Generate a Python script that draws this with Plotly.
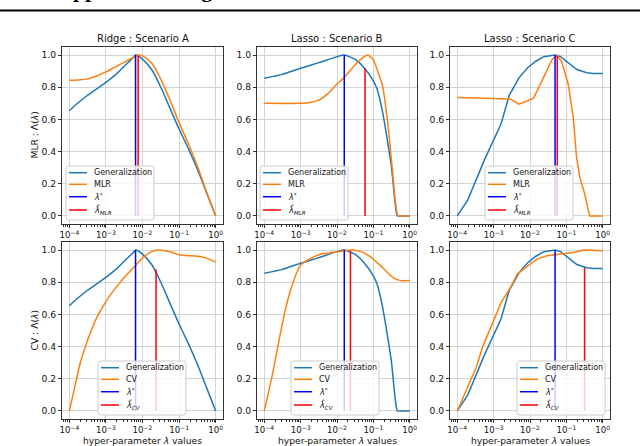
import numpy as np
import plotly.graph_objects as go
from plotly.subplots import make_subplots

W, H = 640, 446

# ---- data (x given as log10 of lambda) ----
# Ridge : Scenario A
ridgeA_gen_logx = [-4, -3.75, -3.5, -3.25, -3, -2.75, -2.5, -2.25, -2.19, -2, -1.75, -1.5, -1.25, -1, -0.75, -0.5, -0.25, 0]
ridgeA_gen = [0.654, 0.705, 0.75, 0.79, 0.83, 0.875, 0.93, 0.985, 1.0, 0.975, 0.91, 0.80, 0.67, 0.54, 0.42, 0.29, 0.145, 0.0]
ridgeA_mlr_logx = [-4, -3.75, -3.5, -3.25, -3, -2.75, -2.5, -2.25, -2.12, -2, -1.75, -1.5, -1.25, -1, -0.75, -0.5, -0.25, 0]
ridgeA_mlr = [0.843, 0.845, 0.852, 0.87, 0.895, 0.925, 0.955, 0.985, 1.0, 0.995, 0.95, 0.85, 0.72, 0.58, 0.45, 0.31, 0.15, 0.0]
ridgeA_cv_logx = [-4, -3.85, -3.7, -3.5, -3.25, -3, -2.75, -2.5, -2.25, -2, -1.75, -1.6, -1.25, -1, -0.75, -0.5, -0.25, 0]
ridgeA_cv = [0.0, 0.15, 0.30, 0.44, 0.58, 0.68, 0.76, 0.83, 0.89, 0.95, 0.99, 1.0, 0.99, 0.97, 0.965, 0.962, 0.95, 0.925]

# Lasso : Scenario B
lassoB_gen_logx = [-4, -3.5, -3, -2.5, -2, -1.8, -1.5, -1.25, -1, -0.9, -0.75, -0.6, -0.5, -0.43, -0.38, -0.34, -0.2, 0]
lassoB_gen = [0.856, 0.88, 0.918, 0.953, 0.99, 1.0, 0.973, 0.92, 0.84, 0.79, 0.65, 0.45, 0.30, 0.14, 0.04, 0.0, 0.0, 0.0]
lassoB_mlr_logx = [-4, -3, -2.75, -2.5, -2.25, -2, -1.8, -1.5, -1.25, -1.15, -1, -0.88, -0.75, -0.6, -0.5, -0.4, -0.36, -0.32, -0.2, 0]
lassoB_mlr = [0.70, 0.70, 0.705, 0.72, 0.76, 0.82, 0.86, 0.94, 0.99, 1.0, 0.97, 0.90, 0.81, 0.57, 0.34, 0.10, 0.03, 0.0, 0.0, 0.0]
lassoB_cv_logx = [-4, -3.79, -3.61, -3.43, -3.25, -3.02, -2.79, -2.43, -1.97, -1.6, -1.34, -1.06, -0.79, -0.47, -0.25, 0]
lassoB_cv = [0.0, 0.21, 0.42, 0.62, 0.77, 0.90, 0.94, 0.975, 0.99, 1.0, 0.99, 0.955, 0.90, 0.83, 0.81, 0.81]

# Lasso : Scenario C
lassoC_gen_logx = [-4, -3.71, -3.25, -3.03, -2.8, -2.57, -2.3, -2.07, -1.85, -1.62, -1.31, -1.16, -0.98, -0.71, -0.44, -0.25, 0]
lassoC_gen = [0.0, 0.10, 0.35, 0.46, 0.57, 0.75, 0.86, 0.92, 0.96, 0.99, 1.0, 0.99, 0.96, 0.91, 0.89, 0.885, 0.885]
lassoC_mlr_logx = [-4, -3.25, -2.8, -2.53, -2.3, -2.1, -1.9, -1.63, -1.4, -1.26, -1.13, -0.95, -0.81, -0.72, -0.63, -0.5, -0.36, 0]
lassoC_mlr = [0.736, 0.732, 0.73, 0.726, 0.695, 0.715, 0.732, 0.86, 0.97, 1.0, 0.96, 0.82, 0.61, 0.365, 0.24, 0.14, 0.0, 0.0]
lassoC_cv_logx = [-4, -3.71, -3.48, -3.3, -3.07, -2.8, -2.53, -2.35, -2.07, -1.8, -1.53, -1.16, -0.8, -0.53, 0]
lassoC_cv = [0.0, 0.15, 0.27, 0.40, 0.52, 0.67, 0.77, 0.85, 0.90, 0.945, 0.965, 0.975, 0.985, 1.0, 0.995]

# selected lambdas (log10) and the generalization value they reach
lam_star_logx = {"A": -2.19, "B": -1.80, "C": -1.31}
lam_star_top = {"A": 1.0, "B": 1.0, "C": 1.0}
lam_mlr_logx = {"A": -2.12, "B": -1.23, "C": -1.25}
lam_mlr_top = {"A": 0.995, "B": 0.92, "C": 0.995}
lam_cv_logx = {"A": -1.63, "B": -1.63, "C": -0.50}
lam_cv_top = {"A": 0.88, "B": 0.995, "C": 0.89}

# tick labels
x_tickvals = [1e-4, 1e-3, 1e-2, 1e-1, 1e0]
x_ticktext = ["10<sup>−4</sup>", "10<sup>−3</sup>", "10<sup>−2</sup>", "10<sup>−1</sup>", "10<sup>0</sup>"]
y_tickvals = [0.0, 0.2, 0.4, 0.6, 0.8, 1.0]

titles = ["Ridge : Scenario A", "Lasso : Scenario B", "Lasso : Scenario C"]
scen = ["A", "B", "C"]
gen_curves = {"A": (ridgeA_gen_logx, ridgeA_gen), "B": (lassoB_gen_logx, lassoB_gen), "C": (lassoC_gen_logx, lassoC_gen)}
mlr_curves = {"A": (ridgeA_mlr_logx, ridgeA_mlr), "B": (lassoB_mlr_logx, lassoB_mlr), "C": (lassoC_mlr_logx, lassoC_mlr)}
cv_curves = {"A": (ridgeA_cv_logx, ridgeA_cv), "B": (lassoB_cv_logx, lassoB_cv), "C": (lassoC_cv_logx, lassoC_cv)}
smooth = {"A": 0.8, "B": 0.5, "C": 0}

C_GEN, C_EST = "#1f77b4", "#ff7f0e"
C_STAR, C_HAT = "#0000ff", "#ff0000"
FONT = "DejaVu Sans"

# panel boxes in pixels
cols_px = [(62, 223), (257, 417), (450, 610)]
rows_px = [(47, 224), (242, 419)]


def px(x):
    return x / W


def py(y):
    return 1 - y / H


def curve_line(color, s):
    if smooth[s] > 0:
        return dict(color=color, width=1.5, shape="spline", smoothing=smooth[s])
    return dict(color=color, width=1.5)


fig = make_subplots(rows=2, cols=3)

for r in range(2):
    for c in range(3):
        s = scen[c]
        est = mlr_curves[s] if r == 0 else cv_curves[s]
        hat_x = lam_mlr_logx[s] if r == 0 else lam_cv_logx[s]
        hat_top = lam_mlr_top[s] if r == 0 else lam_cv_top[s]
        gx, gy = gen_curves[s]
        fig.add_trace(go.Scatter(x=10 ** np.array(gx), y=gy, mode="lines", line=curve_line(C_GEN, s)),
                      row=r + 1, col=c + 1)
        fig.add_trace(go.Scatter(x=10 ** np.array(est[0]), y=est[1], mode="lines", line=curve_line(C_EST, s)),
                      row=r + 1, col=c + 1)
        fig.add_trace(go.Scatter(x=[10 ** lam_star_logx[s]] * 2, y=[0, lam_star_top[s]], mode="lines",
                                 line=dict(color=C_STAR, width=1.5)), row=r + 1, col=c + 1)
        fig.add_trace(go.Scatter(x=[10 ** hat_x] * 2, y=[0, hat_top], mode="lines",
                                 line=dict(color=C_HAT, width=1.5)), row=r + 1, col=c + 1)

        x0, x1 = cols_px[c]
        y0, y1 = rows_px[r]
        idx = r * 3 + c + 1
        sfx = "" if idx == 1 else str(idx)
        fig.layout["xaxis" + sfx].domain = [px(x0), px(x1)]
        fig.layout["yaxis" + sfx].domain = [py(y1), py(y0)]

fig.update_xaxes(type="log", range=[-4.2, 0.2], tickvals=x_tickvals, ticktext=x_ticktext,
                 showgrid=True, gridcolor="#d4d4d4", gridwidth=1, automargin=False,
                 ticks="outside", ticklen=3, tickcolor="#333",
                 minor=dict(ticks="outside", ticklen=2, tickcolor="#333", dtick="D1", showgrid=False),
                 showline=True, mirror=True, linecolor="#333", linewidth=1,
                 tickfont=dict(family=FONT, size=8.6, color="#111"), zeroline=False)
fig.update_yaxes(range=[-0.05, 1.05], tickvals=y_tickvals, tickformat=".1f",
                 showgrid=True, gridcolor="#d4d4d4", gridwidth=1, automargin=False,
                 ticks="outside", ticklen=3, tickcolor="#333",
                 showline=True, mirror=True, linecolor="#333", linewidth=1,
                 tickfont=dict(family=FONT, size=9.2, color="#111"), zeroline=False)

annotations = []
shapes = []

# heading remnant (only its descenders show) and rule at the top
annotations.append(dict(text="<b>Appendix B: Figures</b>", x=px(55), y=py(4), xref="paper", yref="paper",
                        xanchor="left", yanchor="bottom", showarrow=False,
                        font=dict(family="Liberation Serif", size=22, color="black")))
shapes.append(dict(type="line", xref="paper", yref="paper", x0=0, x1=1, y0=py(10.5), y1=py(10.5),
                   line=dict(color="black", width=2.2)))

for c in range(3):
    x0, x1 = cols_px[c]
    annotations.append(dict(text=titles[c], x=px((x0 + x1) / 2), y=py(38), xref="paper", yref="paper",
                            xanchor="center", yanchor="middle", showarrow=False,
                            font=dict(family=FONT, size=10, color="#111")))
    annotations.append(dict(text="hyper-parameter <i>λ</i> values", x=px((x0 + x1) / 2), y=py(440),
                            xref="paper", yref="paper", xanchor="center", yanchor="middle", showarrow=False,
                            font=dict(family=FONT, size=9.2, color="#111")))

for r, lab in enumerate(["MLR : Λ(<i>λ</i>)", "CV : Λ(<i>λ</i>)"]):
    y0, y1 = rows_px[r]
    annotations.append(dict(text=lab, x=px(34), y=py((y0 + y1) / 2), xref="paper", yref="paper",
                            xanchor="center", yanchor="middle", showarrow=False, textangle=-90,
                            font=dict(family=FONT, size=9.2, color="#111")))


def add_legend(lx, ly, labels, colors, w=88, h=54, rad=2.5):
    # rounded, semi-transparent box
    a, b = lx, ly
    c_, d = lx + w, ly + h
    path = (f"M {px(a + rad)},{py(b)} L {px(c_ - rad)},{py(b)} Q {px(c_)},{py(b)} {px(c_)},{py(b + rad)} "
            f"L {px(c_)},{py(d - rad)} Q {px(c_)},{py(d)} {px(c_ - rad)},{py(d)} "
            f"L {px(a + rad)},{py(d)} Q {px(a)},{py(d)} {px(a)},{py(d - rad)} "
            f"L {px(a)},{py(b + rad)} Q {px(a)},{py(b)} {px(a + rad)},{py(b)} Z")
    shapes.append(dict(type="path", xref="paper", yref="paper", path=path,
                       fillcolor="rgba(255,255,255,0.8)", line=dict(color="#cccccc", width=1)))
    offs = [6.7, 18.3, 30.7, 44.0]
    for lab, col, o in zip(labels, colors, offs):
        shapes.append(dict(type="line", xref="paper", yref="paper", x0=px(lx + 3), x1=px(lx + 21),
                           y0=py(ly + o), y1=py(ly + o), line=dict(color=col, width=1.5)))
        annotations.append(dict(text=lab, x=px(lx + 26), y=py(ly + o), xref="paper", yref="paper",
                                xanchor="left", yanchor="middle", showarrow=False,
                                font=dict(family=FONT, size=8, color="#111")))


cols_leg = [C_GEN, C_EST, C_STAR, C_HAT]
top_labels = ["Generalization", "MLR", "<i>λ</i><sup>*</sup>", "<i>λ̂</i><sub><i>MLR</i></sub>"]
bot_labels = ["Generalization", "CV", "<i>λ</i><sup>*</sup>", "<i>λ̂</i><sub><i>CV</i></sub>"]
for lx in [66, 260, 485]:
    add_legend(lx, 166, top_labels, cols_leg)
for lx in [98, 291, 517]:
    add_legend(lx, 361, bot_labels, cols_leg)

fig.update_layout(width=W, height=H, margin=dict(l=0, r=0, t=0, b=0),
                  paper_bgcolor="white", plot_bgcolor="white", showlegend=False,
                  annotations=annotations, shapes=shapes)

fig.write_html("out.html", config={"displayModeBar": False},
               post_script="document.body.style.margin='0';")
